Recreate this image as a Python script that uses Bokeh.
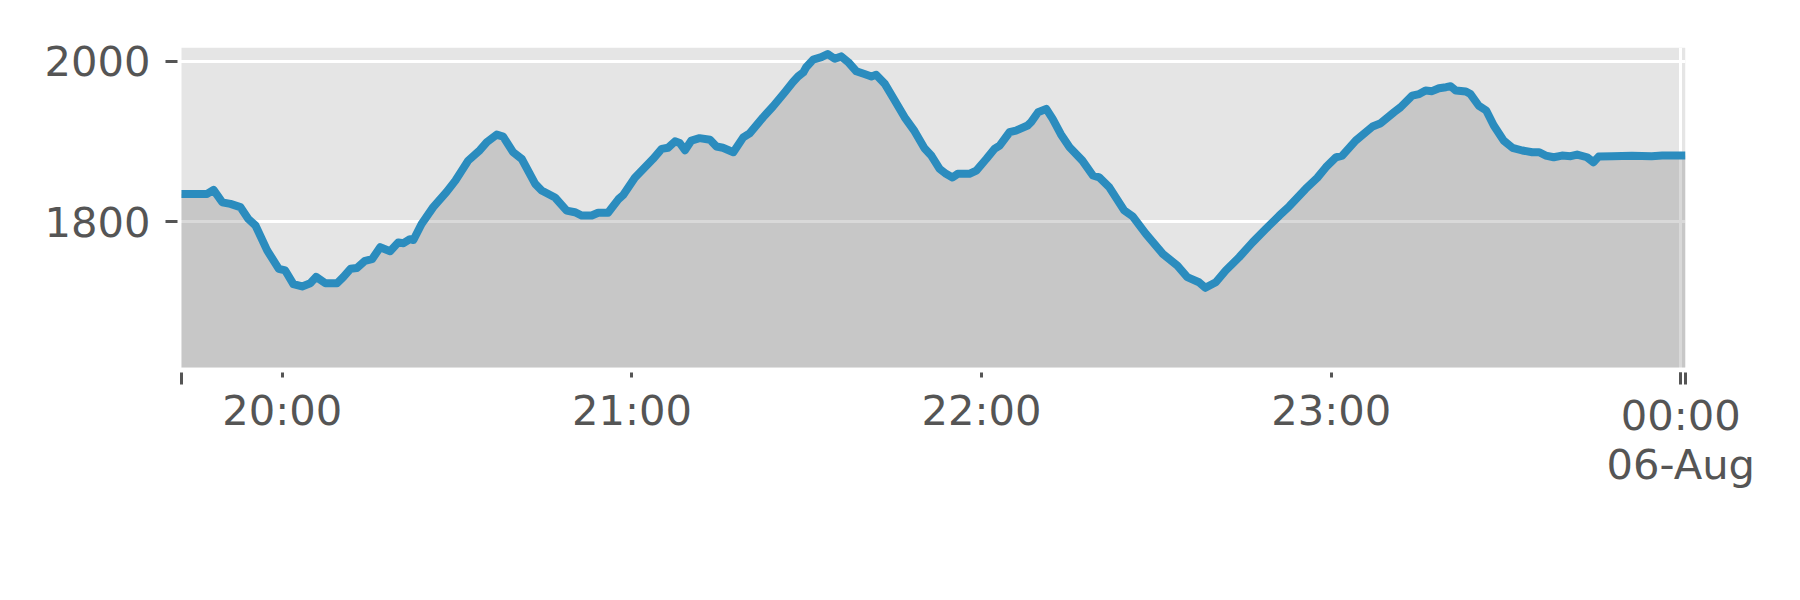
from bokeh.plotting import figure
from bokeh.models import Range1d, FixedTicker, BoxAnnotation, ColumnDataSource, LinearAxis
from bokeh.embed import file_html
from bokeh.resources import INLINE

# ---- data ----
times = [
    "19:42:42", "19:47:06", "19:48:12", "19:49:42", "19:51:06", "19:52:48", "19:54:12", "19:55:24",
    "19:57:24", "19:59:24", "20:00:30", "20:01:54", "20:03:24", "20:04:48", "20:05:48", "20:07:24",
    "20:09:24", "20:10:30", "20:11:42", "20:12:48", "20:14:12", "20:15:24", "20:16:48", "20:18:30",
    "20:19:54", "20:20:48", "20:21:54", "20:22:30", "20:23:54", "20:25:54", "20:28:12", "20:29:42",
    "20:31:54", "20:33:54", "20:35:06", "20:36:48", "20:37:54", "20:39:36", "20:41:06", "20:43:24",
    "20:44:30", "20:46:48", "20:48:48", "20:50:12", "20:51:24", "20:53:06", "20:54:12", "20:55:54",
    "20:57:42", "20:58:30", "21:00:30", "21:03:36", "21:05:06", "21:06:12", "21:07:24", "21:08:12",
    "21:09:06", "21:10:12", "21:11:36", "21:13:24", "21:14:30", "21:15:36", "21:17:24", "21:19:06",
    "21:20:12", "21:22:30", "21:24:12", "21:26:12", "21:27:36", "21:28:30", "21:29:24", "21:29:54",
    "21:31:06", "21:32:30", "21:33:36", "21:34:48", "21:35:54", "21:37:06", "21:38:30", "21:39:54",
    "21:41:06", "21:41:54", "21:43:24", "21:45:06", "21:46:48", "21:48:30", "21:50:12", "21:51:24",
    "21:52:48", "21:53:54", "21:55:00", "21:55:54", "21:57:54", "21:59:06", "22:00:48", "22:02:12",
    "22:03:06", "22:04:48", "22:05:54", "22:07:54", "22:08:30", "22:09:42", "22:11:06", "22:12:12",
    "22:13:36", "22:15:06", "22:17:18", "22:19:06", "22:20:12", "22:21:54", "22:24:30", "22:25:54",
    "22:28:12", "22:31:06", "22:33:36", "22:35:18", "22:37:18", "22:38:24", "22:40:12", "22:41:54",
    "22:44:12", "22:46:30", "22:48:48", "22:51:06", "22:52:48", "22:55:36", "22:57:36", "22:59:06",
    "23:00:48", "23:01:54", "23:04:12", "23:07:06", "23:08:30", "23:10:48", "23:11:54", "23:13:54",
    "23:15:06", "23:16:12", "23:17:18", "23:18:30", "23:19:42", "23:20:30", "23:21:24", "23:23:06",
    "23:23:54", "23:25:18", "23:26:36", "23:27:54", "23:29:36", "23:31:06", "23:32:48", "23:34:30",
    "23:35:42", "23:36:48", "23:38:12", "23:39:36", "23:41:06", "23:42:12", "23:43:54", "23:45:00",
    "23:45:54", "23:48:12", "23:51:36", "23:55:00", "23:56:48", "00:00:48",
]
values = [
    1834.5, 1834.5, 1839.5, 1824, 1822, 1818, 1803, 1795,
    1764, 1741, 1739, 1722, 1719, 1723, 1731, 1723,
    1723, 1731, 1741, 1742, 1751, 1753, 1768, 1763,
    1774, 1773, 1778, 1777, 1797, 1818, 1837, 1851,
    1876, 1889, 1899, 1908.5, 1906, 1886.5, 1878, 1847,
    1838.7, 1830, 1813.7, 1811.6, 1807.5, 1807.5, 1811, 1811,
    1828, 1833, 1854.5, 1878, 1890.6, 1892, 1900, 1898,
    1889, 1901, 1904, 1902, 1893.6, 1892, 1886.5, 1905,
    1910, 1930, 1943.5, 1961, 1973.8, 1980.9, 1986, 1992.5,
    2002, 2005, 2009, 2003, 2006, 1999, 1987.5, 1984,
    1981, 1983, 1971.7, 1951, 1930, 1912.7, 1891.5, 1882,
    1865.7, 1859.5, 1855, 1859.5, 1859.5, 1863.6, 1878, 1890.6,
    1894.8, 1911.4, 1913.5, 1919.8, 1924, 1936.4, 1940.5, 1928,
    1909, 1892.7, 1876, 1857.4, 1855, 1843, 1813.7, 1806.7,
    1784.6, 1759.7, 1745, 1730.6, 1724.3, 1717.3, 1724.3, 1738.9,
    1755.5, 1774, 1791, 1807.5, 1819, 1840.7, 1854.5, 1867.8,
    1880, 1882.3, 1901, 1918.5, 1922.7, 1936.4, 1942.6, 1957,
    1959, 1963.4, 1962.6, 1966.3, 1967.6, 1968.8, 1963.4, 1962.2,
    1959, 1944.7, 1938.5, 1919.8, 1901, 1892, 1888.6, 1886.5,
    1886.5, 1882.3, 1880.2, 1882.3, 1881.5, 1883.6, 1880.2, 1874,
    1881, 1881.5, 1882, 1881.5, 1882.3, 1882.3,
]

hour_ticks = [20, 21, 22, 23]
hour_labels = ["20:00", "21:00", "22:00", "23:00"]
day_tick = 24
day_label = "00:00\n06-Aug"
y_ticks = [1800, 2000]
y_min, y_max = 1617.9, 2017.1


def to_hours(s):
    h, m, sec = (int(v) for v in s.split(":"))
    if h < 12:
        h += 24
    return h + m / 60 + sec / 3600


x = [to_hours(t) for t in times]
src = ColumnDataSource(dict(x=x, y=values, base=[y_min] * len(x)))

TEXT = "#555555"
FONT = "DejaVu Sans"
FS = "41.67px"

p = figure(
    width=1784, height=584,
    output_backend="svg", toolbar_location=None,
    x_range=Range1d(x[0] - 0.0114, x[-1]),
    y_range=Range1d(y_min - 6.2, y_max),
    min_border_left=177, min_border_right=99,
    min_border_top=47, min_border_bottom=212,
)
p.background_fill_color = "white"
p.border_fill_color = "white"
p.outline_line_color = None

panel = BoxAnnotation(left=x[0], right=x[-1], bottom=y_min, top=y_max,
                      fill_color="#E5E5E5", fill_alpha=1.0, line_color=None,
                      level="image")
p.add_layout(panel)

p.ygrid.ticker = FixedTicker(ticks=y_ticks)
p.xgrid.ticker = FixedTicker(ticks=[day_tick])
p.grid.grid_line_color = "white"
p.grid.grid_line_width = 3

p.varea(x="x", y1="base", y2="y", source=src, fill_color="gray", fill_alpha=0.3)
p.line(x="x", y="y", source=src, line_color="#2b8cbe", line_width=8, line_join="round")

# hourly (short) ticks with labels, long ticks at the ends and at midnight
xa = p.xaxis[0]
xa.ticker = FixedTicker(ticks=hour_ticks + [day_tick], minor_ticks=[x[0], day_tick, x[-1]])
xa.major_label_overrides = dict(zip(hour_ticks + [day_tick], hour_labels + [""]))
xa.axis_line_color = None
xa.major_tick_line_color = TEXT
xa.major_tick_line_width = 3
xa.major_tick_in = 0
xa.major_tick_out = 5
xa.minor_tick_line_color = TEXT
xa.minor_tick_line_width = 3
xa.minor_tick_in = 0
xa.minor_tick_out = 12
xa.major_label_text_font = FONT
xa.major_label_text_font_size = FS
xa.major_label_text_color = TEXT
xa.major_label_standoff = 1

# the midnight label sits a little lower (it belongs to the longer tick)
xa2 = LinearAxis(ticker=FixedTicker(ticks=[day_tick]))
xa2.major_label_overrides = {day_tick: day_label}
xa2.axis_line_color = None
xa2.major_tick_line_color = None
xa2.major_tick_in = 0
xa2.major_tick_out = 0
xa2.minor_tick_line_color = None
xa2.minor_tick_in = 0
xa2.minor_tick_out = 0
xa2.major_label_text_font = FONT
xa2.major_label_text_font_size = FS
xa2.major_label_text_color = TEXT
xa2.major_label_text_line_height = 1.0
xa2.major_label_standoff = -47
p.add_layout(xa2, "below")

ya = p.yaxis[0]
ya.ticker = FixedTicker(ticks=y_ticks)
ya.axis_line_color = None
ya.major_tick_line_color = TEXT
ya.major_tick_line_width = 3
ya.major_tick_in = 0
ya.major_tick_out = 12
ya.minor_tick_line_color = None
ya.major_label_text_font = FONT
ya.major_label_text_font_size = FS
ya.major_label_text_color = TEXT
ya.major_label_standoff = 15

open("out.html", "w").write(file_html(p, INLINE))
